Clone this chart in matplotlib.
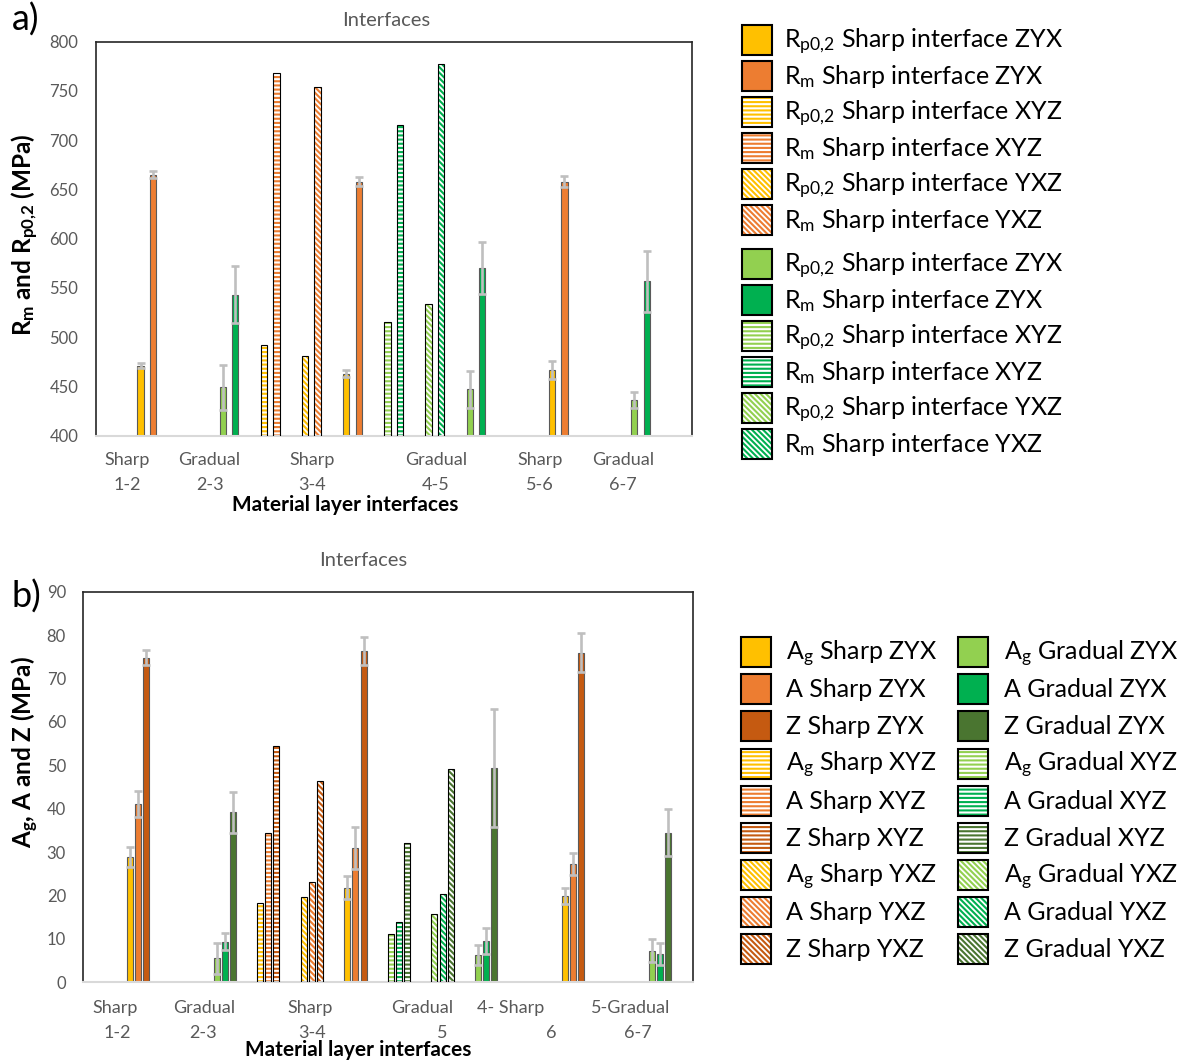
import matplotlib
matplotlib.use("Agg")
import matplotlib.pyplot as plt
from matplotlib.patches import Patch, Rectangle
from matplotlib.legend_handler import HandlerPatch

plt.rcParams['font.family'] = ['Lato', 'DejaVu Sans']
plt.rcParams['mathtext.fontset'] = 'custom'
plt.rcParams['mathtext.rm'] = 'Lato'
plt.rcParams['mathtext.it'] = 'Lato:italic'
plt.rcParams['mathtext.bf'] = 'Lato:bold'
plt.rcParams['hatch.linewidth'] = 1.5

# ---------------- data ----------------
groups = ["Sharp 1-2 ZYX", "Gradual 2-3 ZYX", "Sharp 3-4 XYZ", "Sharp 3-4 YXZ", "Sharp 3-4 ZYX",
          "Gradual 4-5 XYZ", "Gradual 4-5 YXZ", "Gradual 4-5 ZYX", "Sharp 5-6 ZYX", "Gradual 6-7 ZYX"]

# panel a) strength (MPa)
rp02 = [471, 449, 492, 481, 463, 515, 534, 447, 467, 436]
rp02_err = [2.4, 22.5, 0, 0, 3.4, 0, 0, 19, 9, 8]
rm = [665, 543, 768, 754, 658, 715, 777, 570, 658, 557]
rm_err = [3.4, 29, 0, 0, 5, 0, 0, 26.5, 5.8, 31]

# panel b) ductility
ag = [28.8, 5.5, 18.3, 19.6, 21.8, 11.1, 15.7, 6.4, 19.9, 7.3]
ag_err = [2.3, 3.5, 0, 0, 2.7, 0, 0, 2.3, 1.9, 2.6]
a = [41.0, 9.4, 34.3, 23.2, 30.9, 14.0, 20.3, 9.5, 27.2, 6.5]
a_err = [3.0, 2.0, 0, 0, 4.8, 0, 0, 2.9, 2.5, 2.5]
z = [74.8, 39.2, 54.4, 46.3, 76.3, 32.0, 49.1, 49.3, 75.9, 34.5]
z_err = [1.8, 4.7, 0, 0, 3.3, 0, 0, 13.6, 4.5, 5.4]

top_tick_line1 = ["Sharp", "Gradual", "Sharp", "Gradual", "Sharp", "Gradual"]
top_tick_line2 = ["1-2", "2-3", "3-4", "4-5", "5-6", "6-7"]
bot_tick_line1 = ["Sharp", "Gradual", "Sharp", "Gradual", "4- Sharp", "5-Gradual"]
bot_tick_line2 = ["1-2", "2-3", "3-4", "5", "6", "6-7"]

orientations = ["ZYX", "XYZ", "YXZ"]

# ---------------- styles / layout ----------------
slots = [0, 2, 3, 4, 5, 6, 7, 8, 10, 12]
palette = {"Sharp": ['#FFC000', '#ED7D31', '#C55A11'],
           "Gradual": ['#92D050', '#00B050', '#4A7530']}
hatches = {"ZYX": None, "XYZ": '----', "YXZ": '\\' * 6}
ERR_COLOR = '#BFBFBF'
TXT_GRAY = '#595959'


def draw_bar(ax, x, h, w, color, hatch, err):
    if hatch is None:
        ax.bar(x, h, w, color=color, edgecolor='#595959', linewidth=0.8, zorder=2)
    else:
        ax.bar(x, h, w, color='white', edgecolor=color, hatch=hatch, linewidth=0, zorder=2)
        ax.bar(x, h, w, fill=False, edgecolor='black', linewidth=0.8, zorder=3)
    if err:
        ax.errorbar(x, h, yerr=err, fmt='none', ecolor=ERR_COLOR, elinewidth=1.9,
                    capsize=2.8, capthick=1.9, zorder=4)


def style_axes(ax):
    for s in ['left', 'top', 'right']:
        ax.spines[s].set_color('#262626')
        ax.spines[s].set_linewidth(1.2)
    ax.spines['bottom'].set_color('#D9D9D9')
    ax.spines['bottom'].set_linewidth(1.5)
    ax.tick_params(axis='y', length=0, pad=12.5, labelsize=12, labelcolor=TXT_GRAY)
    ax.xaxis.remove_overlapping_locs = False


def legend_handle(color, hatch):
    if hatch is None:
        return Patch(facecolor=color, edgecolor='black', linewidth=1.5)
    return (Patch(facecolor='white', edgecolor=color, hatch=hatch, linewidth=0),
            Patch(fill=False, edgecolor='black', linewidth=1.5))


W, H = 1186, 1063
PX2PT = 72 / 100
fig = plt.figure(figsize=(W / 100, H / 100), dpi=100)

# ================= panel a =================
ax1 = fig.add_axes([95.7 / W, 1 - 435.7 / H, 596.6 / W, 394.0 / H])
bw1, off1 = 0.153, 0.152
for g, s, v1, e1, v2, e2 in zip(groups, slots, rp02, rp02_err, rm, rm_err):
    kind, _, ori = g.split()
    cols = palette[kind]
    draw_bar(ax1, s - off1, v1, bw1, cols[0], hatches[ori], e1)
    draw_bar(ax1, s + off1, v2, bw1, cols[1], hatches[ori], e2)
ax1.set_xlim(-1.241, 13.258)
ax1.set_ylim(400, 800)
ax1.set_yticks(range(400, 801, 50))
style_axes(ax1)
ax1.set_xticks([-0.468, 1.527, 4.028, 7.029, 9.557, 11.567], top_tick_line1)
ax1.set_xticks([-0.468, 1.527, 4.028, 7.029, 9.557, 11.567], top_tick_line2, minor=True)
ax1.tick_params(axis='x', which='major', length=0, pad=11.5, labelsize=13, labelcolor=TXT_GRAY)
ax1.tick_params(axis='x', which='minor', length=0, pad=29.5, labelsize=13, labelcolor=TXT_GRAY)
ax1.set_xlabel('Material layer interfaces', fontsize=15, fontweight='bold')
ax1.xaxis.set_label_coords((345 - 95.7) / 596.6, (435.7 - 505) / 394.0)
ax1.xaxis.label.set_va('center')
ax1.set_ylabel(r'$\mathbf{R_m}$ and $\mathbf{R_{p0{,}2}}$ (MPa)', fontsize=17.5, fontweight='bold')
ax1.yaxis.set_label_coords((25 - 95.7) / 596.6, 0.51)
ax1.yaxis.label.set_va('center')

# ================= panel b =================
ax2 = fig.add_axes([83.3 / W, 1 - 982.3 / H, 610.0 / W, 390.6 / H])
bw2, off2 = 0.138, 0.186
for g, s, v1, e1, v2, e2, v3, e3 in zip(groups, slots, ag, ag_err, a, a_err, z, z_err):
    kind, _, ori = g.split()
    cols = palette[kind]
    draw_bar(ax2, s - off2, v1, bw2, cols[0], hatches[ori], e1)
    draw_bar(ax2, s, v2, bw2, cols[1], hatches[ori], e2)
    draw_bar(ax2, s + off2, v3, bw2, cols[2], hatches[ori], e3)
ax2.set_xlim(-1.249, 12.758)
ax2.set_ylim(0, 90)
ax2.set_yticks(range(0, 91, 10))
style_axes(ax2)
ax2.set_xticks([-0.51, 1.52, 3.97, 6.53, 8.56, 11.32], bot_tick_line1)
ax2.set_xticks([-0.48, 1.49, 4.0, 6.99, 9.49, 11.49], bot_tick_line2, minor=True)
ax2.tick_params(axis='x', which='major', length=0, pad=12.5, labelsize=13, labelcolor=TXT_GRAY)
ax2.tick_params(axis='x', which='minor', length=0, pad=31, labelsize=13, labelcolor=TXT_GRAY)
ax2.set_xlabel('Material layer interfaces', fontsize=15, fontweight='bold')
ax2.xaxis.set_label_coords((358 - 83.3) / 610.0, (982.3 - 1050) / 390.6)
ax2.xaxis.label.set_va('center')
ax2.set_ylabel(r'$\mathbf{A_g}$, A and Z (MPa)', fontsize=17.5, fontweight='bold')
ax2.yaxis.set_label_coords((25 - 83.3) / 610.0, 0.59)
ax2.yaxis.label.set_va('center')

# ================= titles & panel letters =================
fig.text(386 / W, 1 - 21 / H, 'Interfaces', ha='center', va='center', fontsize=14.5, color=TXT_GRAY)
fig.text(363 / W, 1 - 560 / H, 'Interfaces', ha='center', va='center', fontsize=14.5, color=TXT_GRAY)
fig.text(26 / W, 1 - 20 / H, 'a)', ha='center', va='center', fontsize=26)
fig.text(26 / W, 1 - 597 / H, 'b)', ha='center', va='center', fontsize=26)

# ================= legends =================
LFS = 18
fs_px = LFS * 100 / 72
PATCH_PX = 30      # legend key square (px)
BELOW_PX = 7       # part of the key below the text baseline (px)
BOX_DESC_PX = 11   # handle box descent (px), large enough for subscripts
hl = PATCH_PX / fs_px
hh = BOX_DESC_PX / (0.35 * fs_px) + 0.7
box_h_px = fs_px * hh - BOX_DESC_PX
box_asc_px = box_h_px - BOX_DESC_PX
top_gap_px = box_asc_px - (PATCH_PX - BELOW_PX)


def key_rect(legend, orig_handle, xdescent, ydescent, width, height, fontsize):
    return Rectangle((-xdescent, -BELOW_PX * PX2PT), width, PATCH_PX * PX2PT)


hmap = {Patch: HandlerPatch(patch_func=key_rect)}
leg_kw = dict(loc='upper left', frameon=False, borderpad=0, borderaxespad=0,
              fontsize=LFS, handlelength=hl, handleheight=hh, handler_map=hmap)

top_labels = []
top_handles = {"Sharp": [], "Gradual": []}
for ori in orientations:
    top_labels += [r'$\mathregular{R_{p0{,}2}}$ Sharp interface ' + ori,
                   r'$\mathregular{R_m}$ Sharp interface ' + ori]
for kind in ["Sharp", "Gradual"]:
    for ori in orientations:
        top_handles[kind] += [legend_handle(palette[kind][0], hatches[ori]),
                              legend_handle(palette[kind][1], hatches[ori])]

for kind, ytop in [("Sharp", 25), ("Gradual", 249.3)]:
    fig.legend(top_handles[kind], top_labels,
               bbox_to_anchor=(742 / W, 1 - (ytop - top_gap_px) / H),
               handletextpad=0.5, labelspacing=(35.9 - box_h_px) / fs_px, **leg_kw)

qty = [r'$\mathregular{A_g}$', 'A', 'Z']
for kind, x0 in [("Sharp", 741), ("Gradual", 958.3)]:
    hs, ls = [], []
    for ori in orientations:
        for i in range(3):
            hs.append(legend_handle(palette[kind][i], hatches[ori]))
            ls.append(f'{qty[i]} {kind} {ori}')
    fig.legend(hs, ls, bbox_to_anchor=(x0 / W, 1 - (637.3 - top_gap_px) / H),
               handletextpad=0.62, labelspacing=(37.1 - box_h_px) / fs_px, **leg_kw)

fig.savefig('out.png', dpi=100)
